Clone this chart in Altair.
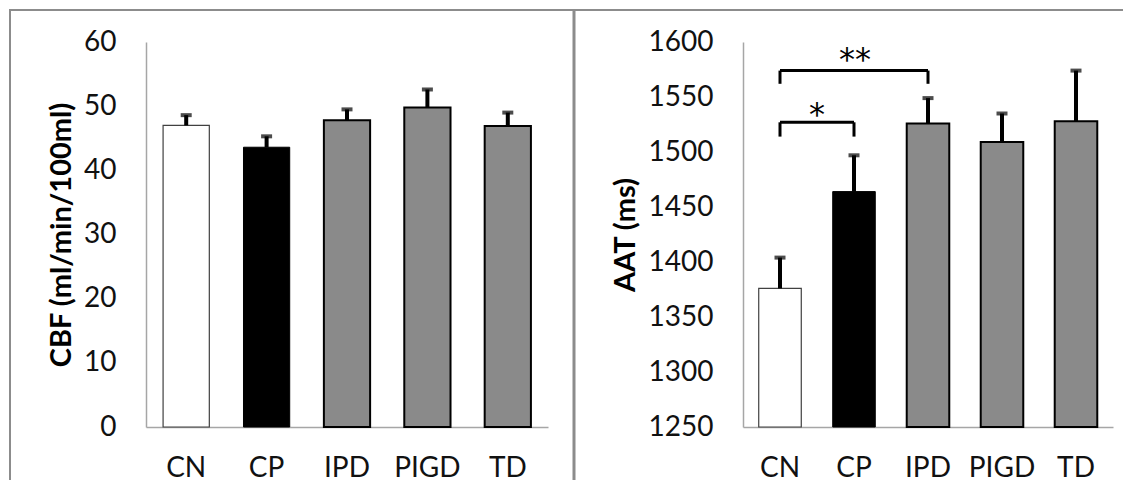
import altair as alt
import pandas as pd

groups = ["CN", "CP", "IPD", "PIGD", "TD"]
cbf_mean = [47.0, 43.6, 47.8, 49.8, 46.9]
cbf_err = [1.6, 1.7, 1.7, 2.8, 2.1]
aat_mean = [1376, 1464, 1526, 1509, 1528]
aat_err = [28, 33, 23, 26, 46]
bar_fill = ["#ffffff", "#000000", "#8a8a8a", "#8a8a8a", "#8a8a8a"]
bar_stroke = ["#404040", "#000000", "#000000", "#000000", "#000000"]
bar_sw = [1.2, 1.0, 2.0, 2.0, 2.0]

cbf_ticks = [0, 10, 20, 30, 40, 50, 60]
aat_ticks = [1250, 1300, 1350, 1400, 1450, 1500, 1550, 1600]

# significance brackets (AAT panel)
sig_from = ["CN", "CN"]
sig_to = ["CP", "IPD"]
sig_level = [1527, 1574]
sig_leg = [1514, 1562]
sig_label = ["*", "**"]
sig_text_y = [1534, 1584]

FONT = "Lato"
STAR_FONT = "DejaVu Sans"
FRAME = "#8c8c8c"
LABEL_SIZE = 28
TITLE_SIZE = 29


def frame_rule(x, x2, y, y2, w):
    enc = dict(x=alt.value(x), y=alt.value(y))
    if x2 is not None:
        enc["x2"] = alt.value(x2)
    if y2 is not None:
        enc["y2"] = alt.value(y2)
    return alt.Chart(alt.Data(values=[{"k": 1}])).mark_rule(
        color=FRAME, strokeWidth=w
    ).encode(**enc)


def panel(mean, err, ticks, ytitle, title_x):
    df = pd.DataFrame({
        "group": groups,
        "mean": mean,
        "upper": [m + e for m, e in zip(mean, err)],
        "fill": bar_fill,
        "stroke": bar_stroke,
        "sw": bar_sw,
    })
    base_y = ticks[0]
    x = alt.X(
        "group:N", sort=groups,
        scale=alt.Scale(paddingInner=0.425, paddingOuter=0.2125),
        axis=alt.Axis(title=None, labelAngle=0, ticks=False, tickSize=0,
                      domainColor="#a6a6a6", domainWidth=1.5,
                      labelPadding=41, labelBaseline="middle",
                      labelFontSize=LABEL_SIZE, labelColor="#111111",
                      labelFont=FONT),
    )
    yscale = alt.Scale(domain=[ticks[0], ticks[-1]], nice=False, zero=False)
    y = alt.Y(
        "mean:Q", scale=yscale,
        axis=alt.Axis(values=ticks, format="d", title=ytitle, grid=False,
                      ticks=False, tickSize=0, domainColor="#a6a6a6",
                      domainWidth=1.5, labelPadding=30,
                      labelFontSize=LABEL_SIZE, labelColor="#111111",
                      labelFont=FONT, titleFont=FONT,
                      titleFontSize=TITLE_SIZE, titleFontWeight="bold",
                      titleColor="#000000", titleX=title_x,
                      titleBaseline="middle"),
    )
    base = alt.Chart(df)
    bars = base.mark_bar().encode(
        x=x, y=y, y2=alt.datum(base_y),
        fill=alt.Fill("fill:N", scale=None),
        stroke=alt.Stroke("stroke:N", scale=None),
        strokeWidth=alt.StrokeWidth("sw:Q", scale=None),
    )
    stems = base.mark_rule(color="#000000", strokeWidth=4).encode(
        x=alt.X("group:N", sort=groups),
        y=alt.Y("mean:Q", scale=yscale),
        y2="upper:Q",
    )
    caps = base.mark_tick(color="#000000", size=11, thickness=4,
                          orient="horizontal").encode(
        x=alt.X("group:N", sort=groups),
        y=alt.Y("upper:Q", scale=yscale),
    )
    return bars, stems, caps, yscale


# Left panel: CBF
lbars, lstems, lcaps, lys = panel(cbf_mean, cbf_err, cbf_ticks,
                                  "CBF (ml/min/100ml)", -85)
left = alt.layer(
    lbars, lstems, lcaps,
    frame_rule(-136, None, -32, 438, 2),
    frame_rule(-137, 428, -32, None, 2),
    frame_rule(428, None, -32, 438, 3),
).properties(width=402, height=385)

# Right panel: AAT
rbars, rstems, rcaps, rys = panel(aat_mean, aat_err, aat_ticks,
                                  "AAT (ms)", -118)
sig = pd.DataFrame({
    "from": sig_from, "to": sig_to, "level": sig_level,
    "leg": sig_leg, "label": sig_label, "ty": sig_text_y,
})
sig_h = alt.Chart(sig).mark_rule(color="#000000", strokeWidth=3).encode(
    x=alt.X("from:N", sort=groups), x2="to:N",
    y=alt.Y("level:Q", scale=rys),
)
sig_l1 = alt.Chart(sig).mark_rule(color="#000000", strokeWidth=3).encode(
    x=alt.X("from:N", sort=groups),
    y=alt.Y("level:Q", scale=rys), y2="leg:Q",
)
sig_l2 = alt.Chart(sig).mark_rule(color="#000000", strokeWidth=3).encode(
    x=alt.X("to:N", sort=groups),
    y=alt.Y("level:Q", scale=rys), y2="leg:Q",
)
# "*" centred between CN and CP
star1 = alt.Chart(sig).transform_filter(alt.datum.label == "*").mark_text(
    font=STAR_FONT, fontSize=32, dx=37, baseline="middle", color="#000000"
).encode(x=alt.X("from:N", sort=groups), y=alt.Y("ty:Q", scale=rys),
         text="label:N")
# "**" centred over CP
star2 = alt.Chart(sig).transform_filter(alt.datum.label == "**").mark_text(
    font=STAR_FONT, fontSize=32, baseline="middle", color="#000000",
    dx=-73
).encode(x=alt.X("to:N", sort=groups), y=alt.Y("ty:Q", scale=rys),
         text="label:N")

right = alt.layer(
    rbars, rstems, rcaps, sig_h, sig_l1, sig_l2, star1, star2,
    frame_rule(-170, 380, -32, None, 2),
).properties(width=370, height=385)

chart = alt.hconcat(left, right, spacing=195, bounds="flush").properties(
    padding=0
).configure_view(stroke=None).resolve_scale(x="independent", y="independent")

chart.save("out.html", embed_options={"renderer": "svg", "actions": False})
